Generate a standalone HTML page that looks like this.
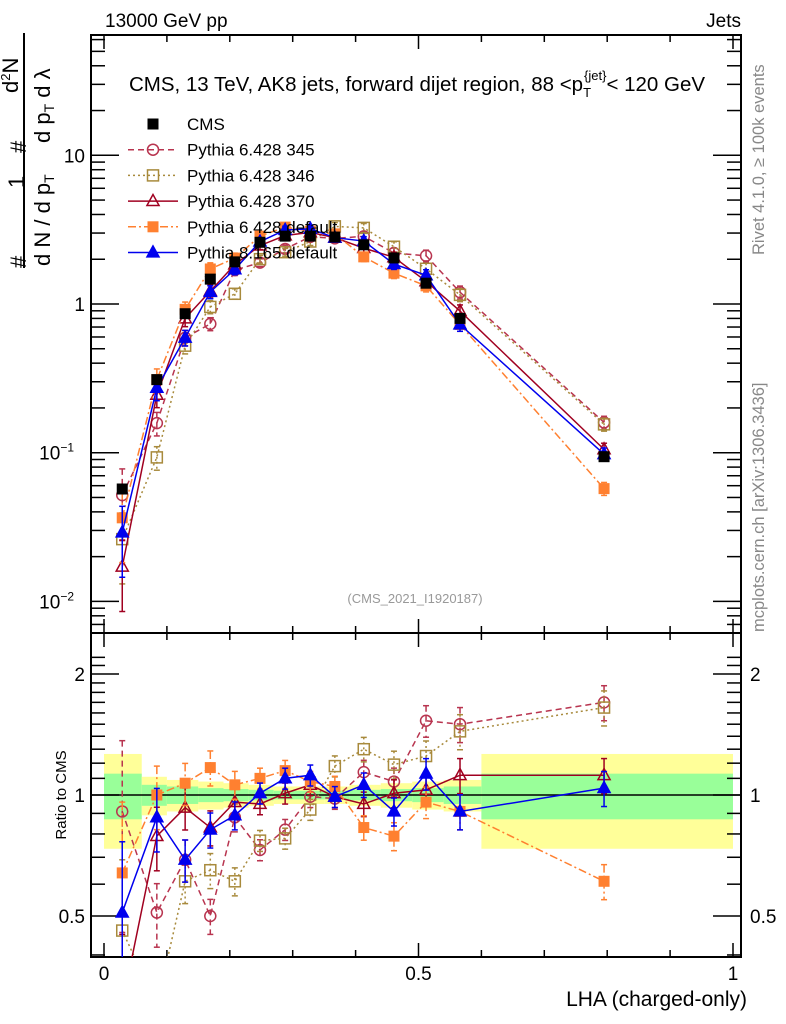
<!DOCTYPE html>
<html><head><meta charset="utf-8"><style>
html,body{margin:0;padding:0;background:#fff;width:786px;height:1024px;overflow:hidden;}
svg{display:block;font-family:"Liberation Sans",sans-serif;}
</style></head><body>
<svg id="c" width="786" height="1024" viewBox="0 0 786 1024">
<text x="105" y="27" font-size="19">13000 GeV pp</text>
<text x="741" y="27" font-size="19" text-anchor="end">Jets</text>
<g id="bands"></g>
<g id="frame"></g>
<text x="417" y="91" font-size="20.5" text-anchor="middle">CMS, 13 TeV, AK8 jets, forward dijet region, 88 &lt;p<tspan font-size="13" dy="6">T</tspan><tspan font-size="13" dy="-17" dx="-7">{jet}</tspan><tspan dy="11">&lt; 120 GeV</tspan></text>
<text x="415" y="603" font-size="13" fill="#999" text-anchor="middle">(CMS_2021_I1920187)</text>
<text transform="translate(764,255) rotate(-90)" font-size="16.5" fill="#888">Rivet 4.1.0, ≥ 100k events</text>
<text transform="translate(764,632) rotate(-90)" font-size="16.5" fill="#888">mcplots.cern.ch [arXiv:1306.3436]</text>
<g transform="translate(0,268) rotate(-90)" font-size="22">
 <text x="0" y="26">#</text><text x="80" y="24">1</text>
 <line x1="0" y1="24" x2="235" y2="24" stroke="#000" stroke-width="2"/>
 <text x="2" y="50">d N / d p<tspan font-size="14" dy="4">T</tspan></text>
 <text x="115" y="26">#</text><text x="175" y="18">d<tspan font-size="13" dy="-8">2</tspan><tspan dy="8">N</tspan></text>
 <text x="125" y="50">d p<tspan font-size="14" dy="4">T</tspan><tspan dy="-4"> d λ</tspan></text>
</g>
<text transform="translate(66,795) rotate(-90)" font-size="15" text-anchor="middle">Ratio to CMS</text>
<text x="747" y="1006" font-size="21" text-anchor="end">LHA (charged-only)</text>
<g id="marks"></g>
<g id="legend"></g>
</svg>
<script>
const xCenters=[0.029,0.084,0.129,0.169,0.208,0.248,0.288,0.328,0.367,0.413,0.461,0.512,0.566,0.795];
const cmsValues=[0.057,0.31,0.86,1.47,1.92,2.6,2.86,2.86,2.82,2.5,2.04,1.38,0.80,0.094];
const ratio345=[0.91,0.51,0.69,0.50,0.88,0.73,0.82,0.99,0.98,1.14,1.08,1.53,1.50,1.70];
const ratio346=[0.46,0.30,0.61,0.65,0.61,0.77,0.78,0.92,1.18,1.30,1.19,1.25,1.44,1.65];
const ratio370=[0.30,0.79,0.93,0.83,0.96,0.95,1.01,1.06,0.99,0.95,1.01,1.03,1.12,1.12];
const ratioDef6=[0.64,1.00,1.07,1.17,1.06,1.10,1.15,1.08,1.05,0.83,0.79,0.96,0.91,0.61];
const ratioP8=[0.51,0.88,0.69,0.82,0.89,1.01,1.10,1.12,0.99,1.06,0.91,1.13,0.91,1.04];
const relErr=[0.5,0.18,0.12,0.1,0.08,0.06,0.06,0.06,0.06,0.07,0.08,0.09,0.1,0.1];
const binEdges=[0,0.06,0.1,0.15,0.19,0.23,0.27,0.31,0.35,0.39,0.44,0.49,0.54,0.6,1.0];
const bandYellow=[0.265,0.11,0.09,0.08,0.07,0.06,0.05,0.05,0.05,0.06,0.07,0.08,0.09,0.265];
const bandGreen=[0.13,0.06,0.05,0.04,0.035,0.03,0.025,0.025,0.025,0.03,0.035,0.04,0.05,0.13];
const xTicks=[0,0.5,1];
const NS="http://www.w3.org/2000/svg";
const X=v=>104+629*v;
const Y=v=>304-148.7*Math.log10(v);
const R=v=>795-402*Math.log10(v);
const L=91,Rt=741,T=35,MB=633,RB=957;
function el(t,a,p){const e=document.createElementNS(NS,t);for(const k in a)e.setAttribute(k,a[k]);p.appendChild(e);return e;}
const bands=document.getElementById('bands'),frame=document.getElementById('frame'),marks=document.getElementById('marks'),leg=document.getElementById('legend');
for(let i=0;i<bandYellow.length;i++){
 const x0=X(binEdges[i]),x1=X(binEdges[i+1]);
 const y=el('rect',{x:x0,y:R(1+bandYellow[i]),width:x1-x0,height:R(1-bandYellow[i])-R(1+bandYellow[i]),fill:'#ffff99'},bands);
 
 
 const g=el('rect',{x:x0,y:R(1+bandGreen[i]),width:x1-x0,height:R(1-bandGreen[i])-R(1+bandGreen[i]),fill:'#99ff99'},bands);
 
 
}
el('line',{x1:L,y1:R(1),x2:Rt,y2:R(1),stroke:'#000','stroke-width':1.5},frame);
el('rect',{x:L,y:T,width:Rt-L,height:RB-T,fill:'none',stroke:'#000','stroke-width':2},frame);
el('line',{x1:L,y1:MB,x2:Rt,y2:MB,stroke:'#000','stroke-width':2},frame);
for(let v=0;v<=1.0001;v+=0.1){const big=Math.abs(v*2-Math.round(v*2))<1e-6;const len=big?14:7;
 for(const [yb,d] of [[T,1],[MB,-1],[MB,1],[RB,-1]]) el('line',{x1:X(v),y1:yb,x2:X(v),y2:yb+d*len,stroke:'#000','stroke-width':1.5},frame);}
xTicks.forEach(v=>{const t=el('text',{x:X(v),y:980,'font-size':19,'text-anchor':'middle'},frame);t.textContent=String(v);
 
 });
for(let d=-3;d<=1;d++)for(let m=1;m<10;m++){const v=m*Math.pow(10,d);const y=Y(v);if(y<T||y>MB)continue;const len=m==1?28:14;
 el('line',{x1:L,y1:y,x2:L+len,y2:y,stroke:'#000','stroke-width':1.5},frame);el('line',{x1:Rt,y1:y,x2:Rt-len,y2:y,stroke:'#000','stroke-width':1.5},frame);}
[[10,'10'],[1,'1'],[0.1,'10<tspan font-size="12" dy="-8">−1</tspan>'],[0.01,'10<tspan font-size="12" dy="-8">−2</tspan>']].forEach(([v,s])=>{
 const t=el('text',{x:v>=1?85:74,y:Y(v)+7,'font-size':19,'text-anchor':'end'},frame);t.innerHTML=s;
 
 });
for(let v=0.4;v<=2.3;v+=0.1){const y=R(v);if(y<MB||y>RB)continue;const big=[0.5,1,2].some(b=>Math.abs(b-v)<1e-6);const len=big?28:14;
 el('line',{x1:L,y1:y,x2:L+len,y2:y,stroke:'#000','stroke-width':1.5},frame);el('line',{x1:Rt,y1:y,x2:Rt-len,y2:y,stroke:'#000','stroke-width':1.5},frame);}
[[2,'2'],[1,'1'],[0.5,'0.5']].forEach(([v,s])=>{for(const [x,a] of [[85,'end'],[750,'start']]){
 const t=el('text',{x:x,y:R(v)+7,'font-size':19,'text-anchor':a},frame);t.textContent=s;
 
 }});
const series=[
 {name:'pythia-6428-345',label:'Pythia 6.428 345',r:ratio345,c:'#b8344f',dash:'6,4',m:'circle',fill:false},
 {name:'pythia-6428-346',label:'Pythia 6.428 346',r:ratio346,c:'#a88a3c',dash:'2,3',m:'square',fill:false},
 {name:'pythia-6428-370',label:'Pythia 6.428 370',r:ratio370,c:'#a00020',dash:'',m:'tri',fill:false},
 {name:'pythia-6428-default',label:'Pythia 6.428 default',r:ratioDef6,c:'#ff8030',dash:'8,3,2,3',m:'square',fill:true},
 {name:'pythia-8165-default',label:'Pythia 8.165 default',r:ratioP8,c:'#0000ee',dash:'',m:'tri',fill:true}];
function marker(g,m,x,y,c,fill,s){
 if(m=='circle')el('circle',{cx:x,cy:y,r:s*0.5,fill:fill?c:'#fff','fill-opacity':fill?1:0,stroke:c,'stroke-width':1.5},g);
 else if(m=='square')el('rect',{x:x-s/2,y:y-s/2,width:s,height:s,fill:fill?c:'none',stroke:c,'stroke-width':fill?0:1.5},g);
 else el('polygon',{points:`${x},${y-s*0.6} ${x-s*0.55},${y+s*0.4} ${x+s*0.55},${y+s*0.4}`,fill:fill?c:'none',stroke:c,'stroke-width':1.5},g);}
const clipM=el('clipPath',{id:'cm'},marks);el('rect',{x:L,y:T,width:Rt-L,height:MB-T},clipM);
const clipR=el('clipPath',{id:'cr'},marks);el('rect',{x:L,y:MB,width:Rt-L,height:RB-MB},clipR);
series.forEach(s=>{
 const g=el('g',{},marks);
 
 
 const gm=el('g',{'clip-path':'url(#cm)'},g),gr=el('g',{'clip-path':'url(#cr)'},g);
 const pm=xCenters.map((x,i)=>[X(x),Y(cmsValues[i]*s.r[i])]);
 const pr=xCenters.map((x,i)=>[X(x),R(s.r[i])]);
 for(const [grp,pts,fn,vals] of [[gm,pm,Y,s.r.map((r,i)=>r*cmsValues[i])],[gr,pr,R,s.r]]){
  el('polyline',{points:pts.map(p=>p.join(',')).join(' '),fill:'none',stroke:s.c,'stroke-width':1.5,'stroke-dasharray':s.dash},grp);
  pts.forEach((p,i)=>{const v=vals[i],e=relErr[i];const y1=fn(v*(1+e)),y2=fn(Math.max(v*(1-e),1e-4));
   el('line',{x1:p[0],y1:y1,x2:p[0],y2:y2,stroke:s.c,'stroke-width':1.5,'stroke-dasharray':s.dash},grp);
   el('line',{x1:p[0]-3,y1:y1,x2:p[0]+3,y2:y1,stroke:s.c,'stroke-width':1.5},grp);
   el('line',{x1:p[0]-3,y1:y2,x2:p[0]+3,y2:y2,stroke:s.c,'stroke-width':1.5},grp);
   marker(grp,s.m,p[0],p[1],s.c,s.fill,11);});
 }
});
const gd=el('g',{},marks);


xCenters.forEach((x,i)=>{const px=X(x),py=Y(cmsValues[i]);
 el('rect',{x:px-5.5,y:py-5.5,width:11,height:11,fill:'#000'},gd);});
const entries=[{label:'CMS',c:'#000',m:'square',fill:true,dash:'',noline:true}].concat(series);
entries.forEach((s,i)=>{const y=124+i*25.7;const g=el('g',{},leg);
 
 
 if(!s.noline)el('line',{x1:128,y1:y,x2:178,y2:y,stroke:s.c,'stroke-width':1.5,'stroke-dasharray':s.dash},g);
 marker(g,s.m,153,y,s.c,s.fill,11);
 const t=el('text',{x:187,y:y+6,'font-size':17},g);t.textContent=s.label;});
</script>
</body></html>
